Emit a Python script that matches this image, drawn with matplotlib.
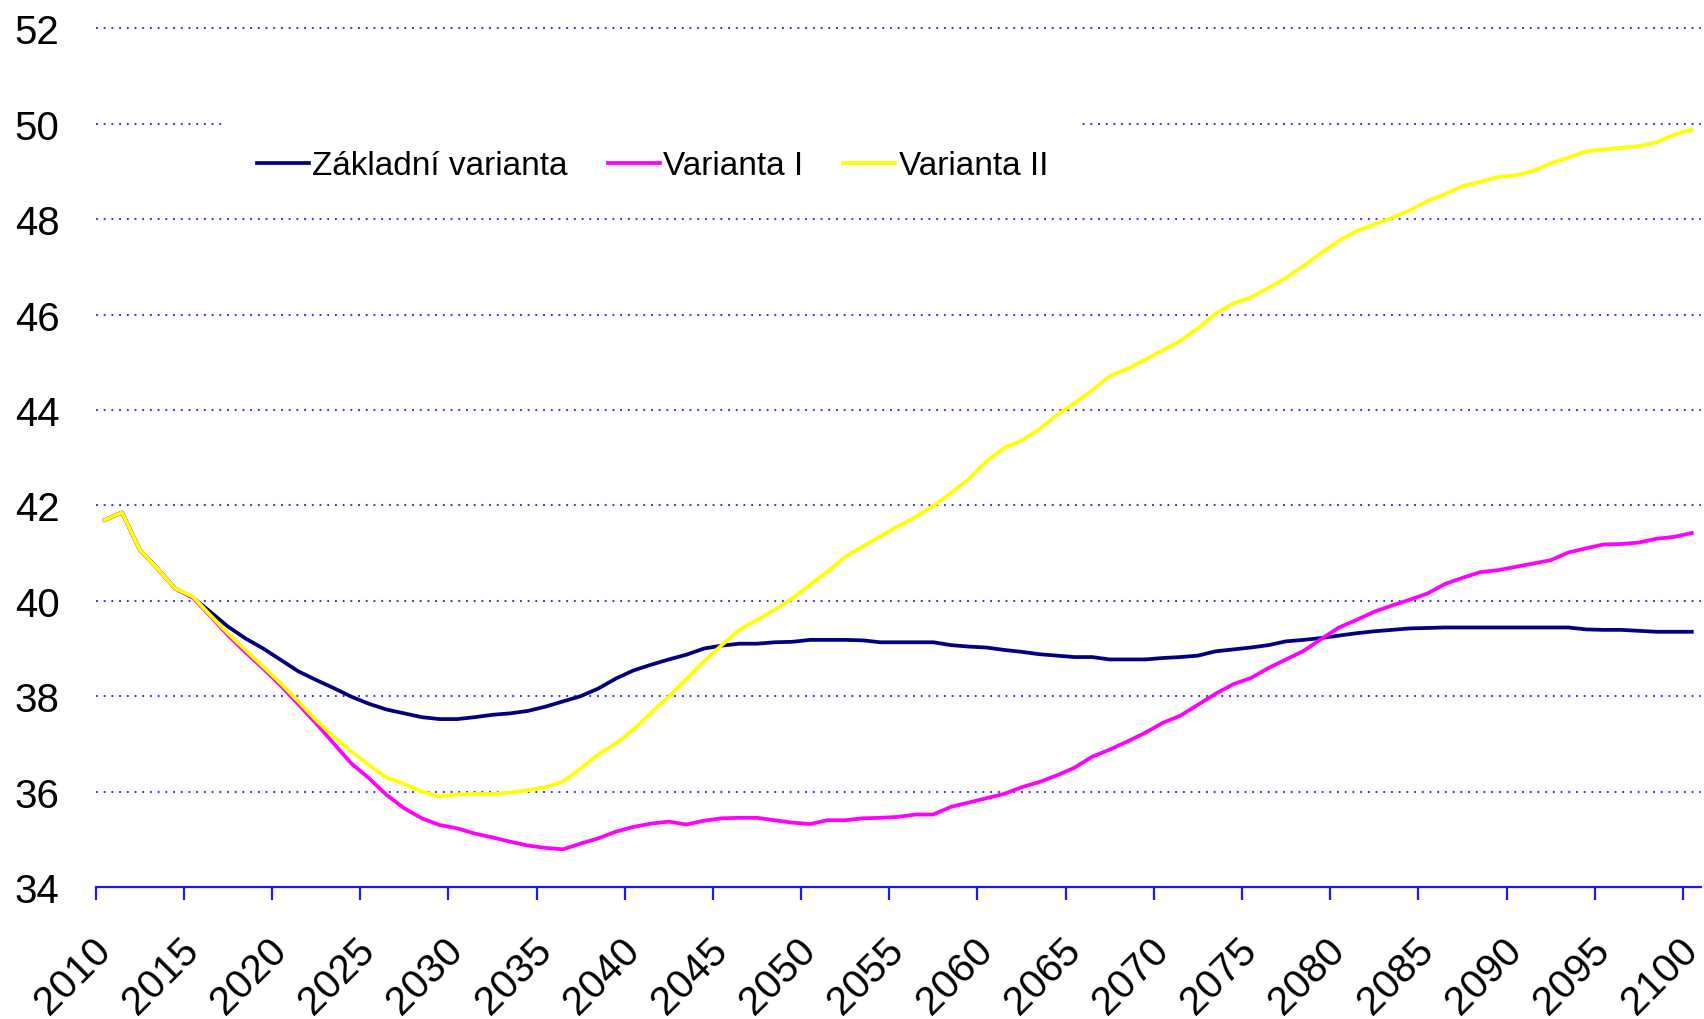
import matplotlib
matplotlib.use('Agg')
import matplotlib.pyplot as plt

plt.rcParams['font.family'] = ['Liberation Sans', 'DejaVu Sans']

years = list(range(2010, 2101))

zakladni = [41.69, 41.85, 41.07, 40.68, 40.26, 40.07, 39.77, 39.46, 39.21, 39.00,
            38.76, 38.52, 38.34, 38.17, 37.99, 37.84, 37.72, 37.64, 37.56, 37.52,
            37.52, 37.56, 37.61, 37.64, 37.69, 37.78, 37.89, 38.00, 38.16, 38.37,
            38.54, 38.66, 38.77, 38.87, 39.00, 39.06, 39.10, 39.10, 39.13, 39.14,
            39.18, 39.18, 39.18, 39.17, 39.13, 39.13, 39.13, 39.13, 39.07, 39.04,
            39.02, 38.97, 38.93, 38.88, 38.85, 38.82, 38.82, 38.77, 38.77, 38.77,
            38.80, 38.82, 38.85, 38.94, 38.98, 39.02, 39.07, 39.15, 39.18, 39.22,
            39.27, 39.32, 39.36, 39.39, 39.42, 39.43, 39.44, 39.44, 39.44, 39.44,
            39.44, 39.44, 39.44, 39.44, 39.40, 39.39, 39.39, 39.37, 39.35, 39.35,
            39.35]

varianta_1 = [41.69, 41.85, 41.07, 40.68, 40.26, 40.07, 39.68, 39.28, 38.92, 38.58,
              38.22, 37.83, 37.43, 37.01, 36.59, 36.28, 35.93, 35.65, 35.44, 35.30,
              35.23, 35.12, 35.04, 34.95, 34.87, 34.82, 34.79, 34.91, 35.02, 35.16,
              35.26, 35.33, 35.37, 35.31, 35.39, 35.44, 35.45, 35.45, 35.40, 35.35,
              35.32, 35.40, 35.40, 35.44, 35.45, 35.47, 35.52, 35.52, 35.68, 35.77,
              35.86, 35.95, 36.09, 36.20, 36.34, 36.50, 36.73, 36.88, 37.05, 37.23,
              37.44, 37.59, 37.82, 38.05, 38.25, 38.38, 38.59, 38.77, 38.95, 39.20,
              39.44, 39.60, 39.77, 39.90, 40.02, 40.15, 40.35, 40.48, 40.60, 40.64,
              40.71, 40.78, 40.85, 41.01, 41.10, 41.18, 41.19, 41.22, 41.30, 41.34,
              41.42]

varianta_2 = [41.69, 41.85, 41.07, 40.68, 40.26, 40.09, 39.70, 39.32, 38.97, 38.62,
              38.27, 37.89, 37.50, 37.15, 36.84, 36.56, 36.29, 36.16, 36.00, 35.90,
              35.94, 35.95, 35.95, 35.98, 36.03, 36.09, 36.21, 36.48, 36.78, 37.01,
              37.30, 37.65, 37.99, 38.36, 38.73, 39.07, 39.39, 39.60, 39.81, 40.05,
              40.33, 40.61, 40.92, 41.14, 41.35, 41.56, 41.76, 41.99, 42.26, 42.55,
              42.92, 43.20, 43.36, 43.59, 43.89, 44.14, 44.41, 44.71, 44.86, 45.05,
              45.25, 45.45, 45.71, 46.02, 46.23, 46.36, 46.56, 46.77, 47.02, 47.29,
              47.55, 47.75, 47.89, 48.03, 48.18, 48.38, 48.52, 48.69, 48.78, 48.88,
              48.92, 49.01, 49.17, 49.29, 49.42, 49.46, 49.49, 49.53, 49.61, 49.77,
              49.88]

tick_years = list(range(2010, 2101, 5))
y_ticks = list(range(34, 53, 2))

axis_blue = '#1a1aff'

fig = plt.figure(figsize=(17.04, 10.2), dpi=100)
ax = fig.add_axes([0.0561, 0.1294, 0.9419, 0.8419])

ax.plot(years, zakladni, color='#000080', lw=2.7, label='Základní varianta')
ax.plot(years, varianta_1, color='#FF00FF', lw=2.7, label='Varianta I')
ax.plot(years, varianta_2, color='#FFFF00', lw=2.7, label='Varianta II')

ax.set_xlim(2009.5, 2100.5)
ax.set_ylim(34, 52)

# dotted horizontal gridlines
for y in y_ticks[1:]:
    ax.axhline(y, color='#3535ff', lw=1.5, ls=(0, (0.9, 2.8)), zorder=0, clip_on=False)

for side in ['top', 'right', 'left']:
    ax.spines[side].set_visible(False)
ax.spines['bottom'].set_color(axis_blue)
ax.spines['bottom'].set_linewidth(1.6)

ax.set_yticks(y_ticks)
ax.tick_params(axis='y', length=0, pad=26, labelsize=29)

# labels sit on the categories, tick marks between them
ax.set_xticks(tick_years)
ax.set_xticklabels([str(t) for t in tick_years])
ax.set_xticks([t - 0.5 for t in tick_years], minor=True)
ax.tick_params(axis='x', which='major', length=0, pad=41, labelsize=29)
ax.tick_params(axis='x', which='minor', length=9, width=1.6, color=axis_blue, direction='out')
for lab in ax.get_xticklabels():
    lab.set_rotation(45)
    lab.set_ha('right')
    lab.set_va('center')
    lab.set_rotation_mode('anchor')

ax.legend(loc='center', bbox_to_anchor=(0.3830, 0.8363), bbox_transform=fig.transFigure,
          ncol=3, fontsize=24, frameon=True, facecolor='white', edgecolor='none',
          framealpha=1, fancybox=False, handlelength=1.56, handletextpad=0.1,
          columnspacing=1.2, borderpad=1.0)

fig.savefig('out.png', dpi=100)
